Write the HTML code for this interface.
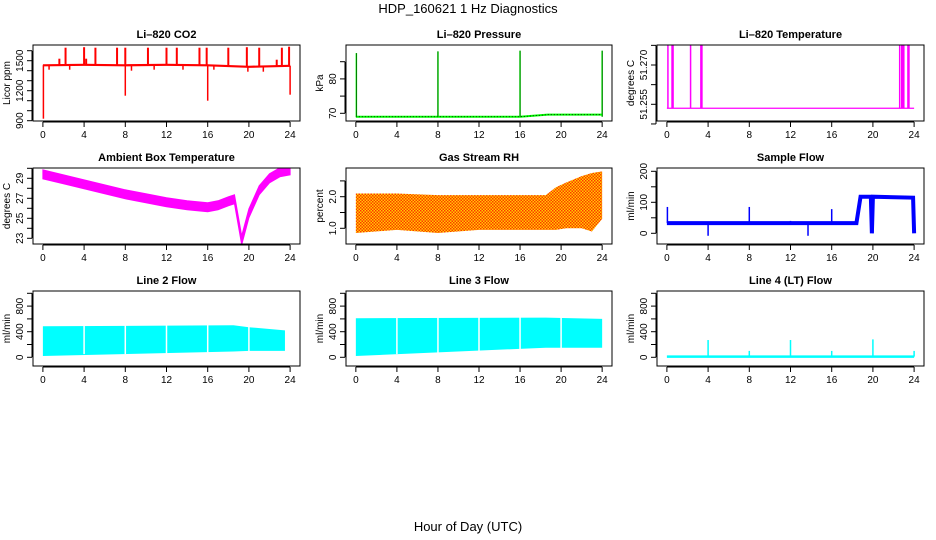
<!DOCTYPE html>
<html><head><meta charset="utf-8"><style>
html,body{margin:0;padding:0;background:#fff;}
svg{display:block;font-family:"Liberation Sans",sans-serif;}
.t{font-size:11px;font-weight:bold;text-anchor:middle;}
.tk{font-size:10px;text-anchor:middle;}
</style></head><body>
<svg id="c" width="936" height="540" xmlns="http://www.w3.org/2000/svg">
<defs>
<pattern id="rh" width="3" height="3" patternUnits="userSpaceOnUse">
<rect width="3" height="3" fill="#ffd000"/><rect width="1.5" height="1.5" fill="#ff3300"/><rect x="1.5" y="1.5" width="1.5" height="1.5" fill="#ff3300"/>
</pattern>
</defs>
<text x="468" y="13" style="font-size:13px;text-anchor:middle">HDP_160621 1 Hz Diagnostics</text>
<text x="468" y="531" style="font-size:13px;text-anchor:middle">Hour of Day (UTC)</text>
</svg>
<script>
// ---- data ----
const xTicks=[0,4,8,12,16,20,24];
// CO2
const co2Hours=[0,4,8,12,16,20,24];
const co2Base=[1455,1460,1455,1460,1455,1440,1450];
const co2UpHours=[1.6,2.2,4,4.2,5.1,7.2,8,10.2,12,13,15.2,15.9,18,19.8,21,22.7,23.2,23.9];
const co2UpVals=[1520,1630,1635,1520,1630,1630,1630,1630,1630,1630,1630,1630,1630,1635,1630,1510,1630,1640];
const co2DnHours=[0.05,0.6,2.6,8,8.6,10.8,13.6,16,16.6,19.9,21.4,24];
const co2DnVals=[920,1410,1410,1150,1400,1410,1410,1100,1410,1390,1390,1160];
// Pressure
const presHours=[0,8,16,18.7,24];
const presVals=[69.0,69.0,69.0,69.6,69.6];
const presSpikeHours=[0.05,8,16,24];
const presSpikeVals=[87.5,88,88.2,88.2];
// Li-820 temperature
const ltBase=51.2535;
const ltSpikeHours=[0.1,0.5,0.6,2.3,3.3,3.4,22.6,22.8,22.9,23.0,23.4,23.5];
const ltTop=51.2775;
// Ambient temperature
const ambHours=[0,2,4,6,8,10,12,14,16,17,18,18.6,19.3,20,21,22,23,24];
const ambVals=[29.4,28.9,28.4,27.9,27.4,27.0,26.6,26.3,26.1,26.3,26.7,26.9,22.8,25.5,27.8,29.0,29.6,29.8];
// Gas stream RH
const rhHours=[0,4,8,12,16,18.5,19.5,20.5,22,23,24];
const rhUpper=[2.1,2.1,2.05,2.05,2.05,2.05,2.3,2.45,2.65,2.75,2.8];
const rhLower=[0.85,0.95,0.85,0.95,0.95,0.95,0.95,1.0,1.0,0.9,1.3];
// Sample flow
const sfHours=[0,18.4,18.8,19.8,19.9,20.0,23.9,24];
const sfVals=[33,33,118,118,0,118,115,0];
const sfSpikeHours=[0.05,4,8,12,13.7,16,20];
const sfSpikeVals=[85,-8,85,40,-8,78,0];
// Line flows
const l2Hours=[0,18.5,20,23.5];
const l2Upper=[485,500,470,420];
const l2Lower=[20,90,100,100];
const l3Hours=[0,18.5,24];
const l3Upper=[610,620,600];
const l3Lower=[20,150,150];
const flowGaps=[4,8,12,16,20];
const l4SpikeHours=[4,8,12,16,20,24];
const l4SpikeVals=[270,100,270,100,280,100];

// ---- drawing ----
const svg=document.getElementById('c');
const NS='http://www.w3.org/2000/svg';
function mk(tag,attrs,parent){const e=document.createElementNS(NS,tag);for(const k in attrs)e.setAttribute(k,attrs[k]);(parent||svg).appendChild(e);return e;}
const cols=[[33,300],[346,612],[657,924]];
const rows=[[45,121],[168,244],[291,366]];
function panel(ci,ri,title,ylab,y0v,y0p,y1v,y1p,ticks,labels,name){
  const [L,R]=cols[ci],[T,B]=rows[ri];
  const g=mk('g',{});
  
  
  const xs=h=>L+(R-L)*(h+0.96)/25.92;
  const ys=v=>y0p+(v-y0v)*(y1p-y0p)/(y1v-y0v);
  const t=mk('text',{x:(L+R)/2,y:T-7,class:'t'},g);t.textContent=title;
  
  const yl=mk('text',{x:0,y:0,class:'tk',transform:`translate(${L-23},${(T+B)/2}) rotate(-90)`},g);yl.textContent=ylab;
  
  const ax=mk('g',{stroke:'#000','stroke-width':1},g);
  
  mk('line',{x1:xs(0),x2:xs(24),y1:B+1,y2:B+1},ax);
  xTicks.forEach(h=>{mk('line',{x1:xs(h),x2:xs(h),y1:B+1,y2:B+6},ax);
    const tx=mk('text',{x:xs(h),y:B+17,class:'tk',stroke:'none'},g);tx.textContent=h;
    });
  const ay=mk('g',{stroke:'#000'},g);
  
  mk('line',{x1:L-1,x2:L-1,y1:ys(ticks[0]),y2:ys(ticks[ticks.length-1])},ay);
  ticks.forEach(v=>mk('line',{x1:L-6,x2:L-1,y1:ys(v),y2:ys(v)},ay));
  labels.forEach(([v,s])=>{const tx=mk('text',{x:0,y:0,class:'tk',transform:`translate(${L-10},${ys(v)}) rotate(-90)`},g);tx.textContent=s;
    });
  const clip='cl'+ci+ri;
  const cp=mk('clipPath',{id:clip},g);mk('rect',{x:L,y:T,width:R-L,height:B-T},cp);
  const d=mk('g',{'clip-path':`url(#${clip})`},g);
  
  mk('rect',{x:L,y:T,width:R-L,height:B-T,fill:'none',stroke:'#000'},g);
  return {xs,ys,d};
}
function poly(p,hours,vals,attrs){return mk('polyline',Object.assign({points:hours.map((h,i)=>p.xs(h)+','+p.ys(vals[i])).join(' '),fill:'none'},attrs),p.d);}
function band(p,hours,up,lo,attrs){const pts=hours.map((h,i)=>p.xs(h)+','+p.ys(up[i])).concat(hours.slice().reverse().map((h,i)=>p.xs(h)+','+p.ys(lo[hours.length-1-i])));return mk('polygon',Object.assign({points:pts.join(' ')},attrs),p.d);}
function spikes(p,hours,vals,base,col,w){hours.forEach((h,i)=>{const b=typeof base==='number'?base:base(h);const l=mk('line',{x1:p.xs(h),x2:p.xs(h),y1:p.ys(b),y2:p.ys(vals[i]),stroke:col,'stroke-width':w||1.5},p.d);
  });}
function interp(hours,vals){return h=>{for(let i=1;i<hours.length;i++)if(h<=hours[i]){const f=(h-hours[i-1])/(hours[i]-hours[i-1]);return vals[i-1]+f*(vals[i]-vals[i-1]);}return vals[vals.length-1];};}

// CO2
let p=panel(0,0,'Li\u2013820 CO2','Licor ppm',900,120.7,1600,50.7,[900,1000,1100,1200,1300,1400,1500,1600],[[900,'900'],[1200,'1200'],[1500,'1500']],'co2-panel');
const cb=interp(co2Hours,co2Base);
band(p,co2Hours,co2Base.map(v=>v+10),co2Base.map(v=>v-12),{fill:'#ff0000'});
spikes(p,co2UpHours,co2UpVals,cb,'#ff0000',2);
spikes(p,co2DnHours,co2DnVals,cb,'#ff0000',1.5);
// Pressure
p=panel(1,0,'Li\u2013820 Pressure','kPa',70,113.3,85,61.7,[70,75,80,85],[[70,'70'],[80,'80']],'pressure-panel');
poly(p,presHours,presVals,{stroke:'#00ff00','stroke-width':2});
poly(p,presHours,presVals,{stroke:'#000','stroke-width':0.8,'stroke-dasharray':'1,2'});
spikes(p,presSpikeHours,presSpikeVals,69,'#00ff00',1.5);
spikes(p,presSpikeHours,presSpikeVals,69,'#000',0.5);
// Li-820 temp
p=panel(2,0,'Li\u2013820 Temperature','degrees C',51.255,104.3,51.27,65,[51.2475,51.255,51.2625,51.27,51.2775],[[51.255,'51.255'],[51.27,'51.270']],'li820-temperature-panel');
poly(p,[0,24],[ltBase,ltBase],{stroke:'#ff00ff','stroke-width':1.2});
spikes(p,ltSpikeHours,ltSpikeHours.map(()=>ltTop),ltBase,'#ff00ff',1.5);
// Ambient
p=panel(0,1,'Ambient Box Temperature','degrees C',23,238.3,29,178.3,[23,24,25,26,27,28,29,30],[[23,'23'],[25,'25'],[27,'27'],[29,'29']],'ambient-temperature-panel');
band(p,ambHours,ambVals.map(v=>v+0.45),ambVals.map(v=>v-0.45),{fill:'#ff00ff',stroke:'#ff00ff','stroke-width':1});
// RH
p=panel(1,1,'Gas Stream RH','percent',1,228.3,2,196.7,[1,1.5,2,2.5],[[1,'1.0'],[2,'2.0']],'gas-stream-rh-panel');
band(p,rhHours,rhUpper,rhLower,{fill:'url(#rh)'});
// Sample flow
p=panel(2,1,'Sample Flow','ml/min',0,233.3,100,202.3,[0,50,100,150,200],[[0,'0'],[100,'100'],[200,'200']],'sample-flow-panel');
poly(p,sfHours,sfVals,{stroke:'#0000ff','stroke-width':4});
spikes(p,sfSpikeHours,sfSpikeVals,33,'#0000ff',1.5);
// Line 2
const fl=[0,200,400,600,800,1000],fll=[[0,'0'],[400,'400'],[800,'800']];
p=panel(0,2,'Line 2 Flow','ml/min',0,357.3,1000,293.3,fl,fll,'line2-flow-panel');
band(p,l2Hours,l2Upper,l2Lower,{fill:'#00ffff'});
flowGaps.forEach(h=>mk('line',{x1:p.xs(h),x2:p.xs(h),y1:p.ys(700),y2:p.ys(50),stroke:'#fff','stroke-width':1.5},p.d));
// Line 3
p=panel(1,2,'Line 3 Flow','ml/min',0,357.3,1000,293.3,fl,fll,'line3-flow-panel');
band(p,l3Hours,l3Upper,l3Lower,{fill:'#00ffff'});
flowGaps.forEach(h=>mk('line',{x1:p.xs(h),x2:p.xs(h),y1:p.ys(700),y2:p.ys(50),stroke:'#fff','stroke-width':1.5},p.d));
// Line 4
p=panel(2,2,'Line 4 (LT) Flow','ml/min',0,357.3,1000,293.3,fl,fll,'line4-flow-panel');
poly(p,[0,24],[10,10],{stroke:'#00ffff','stroke-width':2.5});
spikes(p,l4SpikeHours,l4SpikeVals,10,'#00ffff',1.5);
</script>
</body></html>
